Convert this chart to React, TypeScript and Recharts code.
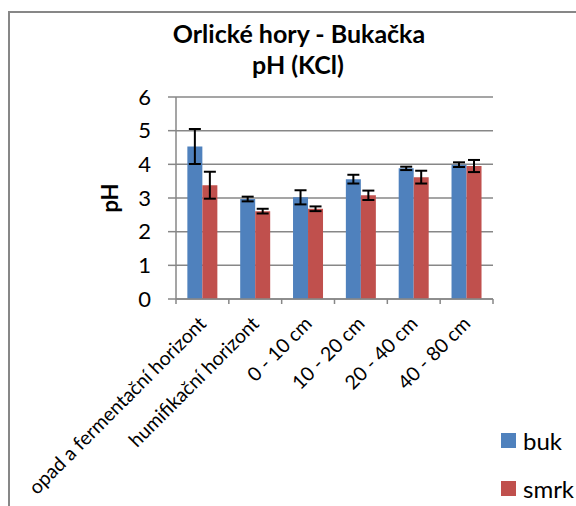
import React from 'react';
import { BarChart, Bar, XAxis, YAxis, CartesianGrid, ErrorBar } from 'recharts';

const categories = [
    'opad a fermentační horizont',
    'humifikační horizont',
    '0 - 10 cm',
    '10 - 20 cm',
    '20 - 40 cm',
    '40 - 80 cm',
];
const buk = [4.53, 2.97, 3.02, 3.56, 3.88, 3.99];
const bukErr = [0.52, 0.07, 0.21, 0.13, 0.05, 0.07];
const smrk = [3.38, 2.61, 2.68, 3.08, 3.62, 3.95];
const smrkErr = [0.4, 0.07, 0.07, 0.14, 0.19, 0.18];
const yTicks = [0, 1, 2, 3, 4, 5, 6];

const data = categories.map((name, i) => ({
    name,
    buk: buk[i],
    bukErr: bukErr[i],
    smrk: smrk[i],
    smrkErr: smrkErr[i],
}));

const FONT = 'Lato, "Liberation Sans", sans-serif';
const GRAY = '#878787';
const BLUE = '#4F81BD';
const RED = '#C0504D';

const legendItems = [
    { label: 'buk', color: BLUE },
    { label: 'smrk', color: RED },
];

// rotated label + tick marks on the category boundaries (Excel style)
function CategoryTick(props: any) {
    const { x, y, payload, visibleTicksCount } = props;
    const half = payload.offset || 0;
    const isLast = payload.index === visibleTicksCount - 1;
    return (
        <g>
            <line x1={x - half} y1={y} x2={x - half} y2={y + 5} stroke={GRAY} strokeWidth={1.5} />
            {isLast && <line x1={x + half} y1={y} x2={x + half} y2={y + 5} stroke={GRAY} strokeWidth={1.5} />}
            <g transform={`translate(${x + 5},${y + 26})`}>
                <text x={0} y={0} textAnchor="end" transform="rotate(-45)" fontSize={19.5} fontFamily={FONT} fill="#000">
                    {payload.value}
                </text>
            </g>
        </g>
    );
}

export default function App() {
    return (
        <div style={{ position: 'fixed', left: 0, top: 0, width: 576, height: 506, overflow: 'hidden', background: '#fff' }}>
            {/* chart frame, runs off the right and bottom edges */}
            <div
                style={{
                    position: 'absolute',
                    left: 8,
                    top: 11,
                    width: 700,
                    height: 700,
                    borderLeft: `2px solid ${GRAY}`,
                    borderTop: `2px solid ${GRAY}`,
                }}
            />
            <div style={{ position: 'absolute', left: 0, top: 0, width: 576, textAlign: 'center', fontFamily: FONT, fontWeight: 700, fontSize: 25, lineHeight: '34px' }}>
                <div style={{ position: 'absolute', left: 0, top: 16, width: 598 }}>Orlické hory - Bukačka</div>
                <div style={{ position: 'absolute', left: 0, top: 47, width: 596 }}>pH (KCl)</div>
            </div>
            <div style={{ position: 'absolute', left: 0, top: 0 }}>
                <BarChart
                    width={576}
                    height={506}
                    data={data}
                    margin={{ top: 97, right: 83, left: 116, bottom: 7 }}
                    barCategoryGap="21.5%"
                    barGap={0}
                >
                    <CartesianGrid horizontal vertical={false} stroke={GRAY} strokeWidth={1.5} />
                    <XAxis
                        dataKey="name"
                        interval={0}
                        height={200}
                        stroke={GRAY}
                        strokeWidth={1.5}
                        tickLine={false}
                        tickSize={0}
                        tickMargin={0}
                        tick={<CategoryTick />}
                    />
                    <YAxis
                        domain={[0, 6]}
                        ticks={yTicks}
                        width={60}
                        tickSize={8}
                        tickMargin={17}
                        stroke={GRAY}
                        strokeWidth={1.5}
                        tick={{ fill: '#000', fontSize: 22, fontFamily: FONT }}
                        label={{
                            value: 'pH',
                            angle: -90,
                            position: 'insideLeft',
                            offset: -6,
                            style: { fontSize: 22, fontWeight: 700, fontFamily: FONT, fill: '#000', textAnchor: 'middle' },
                        }}
                    />
                    <Bar dataKey="buk" name="buk" fill={BLUE} isAnimationActive={false}>
                        <ErrorBar dataKey="bukErr" direction="y" width={6} stroke="#000" strokeWidth={2} isAnimationActive={false} />
                    </Bar>
                    <Bar dataKey="smrk" name="smrk" fill={RED} isAnimationActive={false}>
                        <ErrorBar dataKey="smrkErr" direction="y" width={6} stroke="#000" strokeWidth={2} isAnimationActive={false} />
                    </Bar>
                </BarChart>
            </div>
            {/* legend */}
            <div style={{ position: 'absolute', left: 501, top: 416, fontFamily: FONT }}>
                {legendItems.map((it) => (
                    <div key={it.label} style={{ display: 'flex', alignItems: 'center', height: 48 }}>
                        <span style={{ width: 15, height: 15, background: it.color, display: 'inline-block', marginRight: 7 }} />
                        <span style={{ fontSize: 24, color: '#000' }}>{it.label}</span>
                    </div>
                ))}
            </div>
        </div>
    );
}
